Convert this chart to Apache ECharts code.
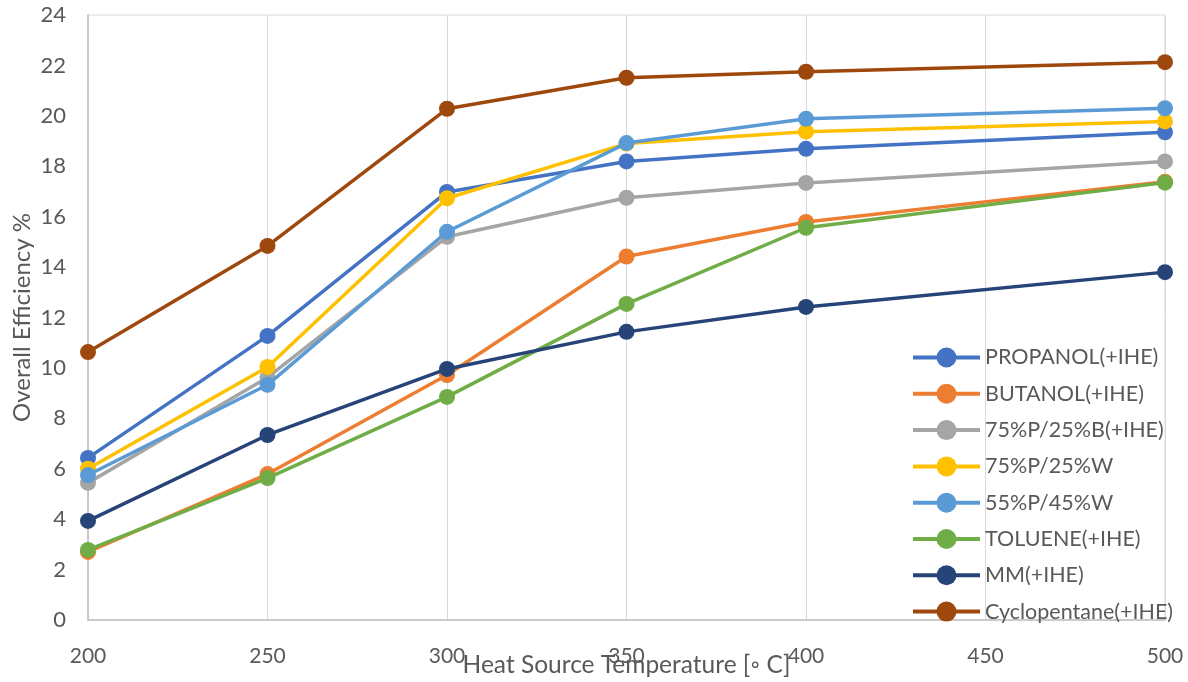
<!DOCTYPE html>
<html>
<head>
<meta charset="utf-8">
<script src="https://cdn.jsdelivr.net/npm/echarts@6/dist/echarts.min.js"></script>
<style>
  html, body { margin: 0; padding: 0; background: #fff; }
  #chart { width: 1188px; height: 682px; }
</style>
</head>
<body>
<div id="chart"></div>
<script>
// Heat source temperatures (°C)
const temperatures = [200, 250, 300, 350, 400, 500];

// Overall efficiency (%) per working fluid
const propanol     = [6.43, 11.27, 16.98, 18.19, 18.69, 19.35];
const butanol      = [2.70, 5.79, 9.72, 14.42, 15.79, 17.39];
const p75b25       = [5.44, 9.62, 15.20, 16.75, 17.34, 18.19];
const p75w25       = [6.00, 10.04, 16.73, 18.90, 19.37, 19.78];
const p55w45       = [5.75, 9.33, 15.40, 18.92, 19.88, 20.30];
const toluene      = [2.78, 5.63, 8.85, 12.54, 15.56, 17.35];
const mm           = [3.93, 7.34, 9.96, 11.43, 12.42, 13.80];
const cyclopentane = [10.63, 14.84, 20.28, 21.51, 21.75, 22.13];

const seriesNames = [
  'PROPANOL(+IHE)', 'BUTANOL(+IHE)', '75%P/25%B(+IHE)', '75%P/25%W',
  '55%P/45%W', 'TOLUENE(+IHE)', 'MM(+IHE)', 'Cyclopentane(+IHE)'
];
const seriesValues = [propanol, butanol, p75b25, p75w25, p55w45, toluene, mm, cyclopentane];
const seriesColors = ['#4472C4', '#ED7D31', '#A5A5A5', '#FFC000', '#5B9BD5', '#70AD47', '#264478', '#9E480E'];

const FONT = 'Lato, "Open Sans", sans-serif';
const TEXT = '#595959';

const chart = echarts.init(document.getElementById('chart'), null, { renderer: 'canvas' });

chart.setOption({
  animation: false,
  backgroundColor: '#ffffff',
  grid: {
    left: 88, right: 23, top: 15, bottom: 62,
    outerBoundsMode: 'none',
    containLabel: false,
    show: true, borderColor: '#D9D9D9', borderWidth: 1
  },
  legend: {
    orient: 'vertical',
    left: 906, top: 340,
    itemWidth: 67, itemHeight: 25, itemGap: 11.3,
    lineStyle: { width: 4 },
    textStyle: { fontFamily: FONT, fontSize: 21.5, lineHeight: 25, color: TEXT },
    data: seriesNames
  },
  xAxis: {
    type: 'value',
    min: 200, max: 500, interval: 50,
    name: 'Heat Source Temperature [\u25E6 C]',
    nameLocation: 'middle',
    nameGap: 33,
    nameMoveOverlap: false,
    nameTextStyle: { fontFamily: FONT, fontSize: 24.5, color: TEXT },
    axisLine: { show: true, lineStyle: { color: '#BFBFBF', width: 1.5 } },
    axisTick: { show: false },
    axisLabel: { fontFamily: FONT, fontSize: 21, color: TEXT, margin: 26 },
    splitLine: { show: true, lineStyle: { color: '#D9D9D9', width: 1 } }
  },
  yAxis: {
    type: 'value',
    min: 0, max: 24, interval: 2,
    name: 'Overall Efficiency %',
    nameLocation: 'middle',
    nameGap: 54,
    nameMoveOverlap: false,
    nameTextStyle: { fontFamily: FONT, fontSize: 24, color: TEXT },
    axisLine: { show: true, lineStyle: { color: '#BFBFBF', width: 1.5 } },
    axisTick: { show: false },
    axisLabel: { fontFamily: FONT, fontSize: 22, color: TEXT, margin: 22 },
    splitLine: { show: false }
  },
  series: seriesNames.map((name, i) => ({
    name: name,
    type: 'line',
    data: temperatures.map((t, j) => [t, seriesValues[i][j]]),
    symbol: 'circle',
    symbolSize: 16,
    itemStyle: { color: seriesColors[i] },
    lineStyle: { color: seriesColors[i], width: 3.5 },
    z: 2 + i
  }))
});
</script>
</body>
</html>
